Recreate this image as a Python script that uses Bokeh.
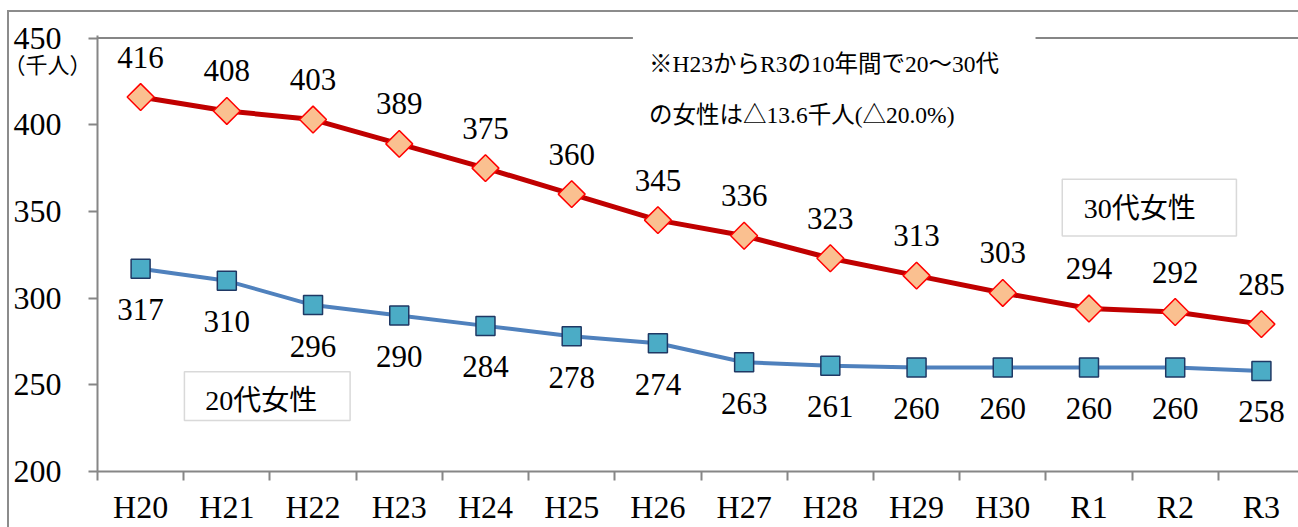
import numpy as np
from bokeh.plotting import figure
from bokeh.models import Range1d, FixedTicker, BoxAnnotation, Label, LinearAxis
from bokeh.core.properties import value
from bokeh.embed import file_html
from bokeh.resources import INLINE

categories = ["H20", "H21", "H22", "H23", "H24", "H25", "H26",
              "H27", "H28", "H29", "H30", "R1", "R2", "R3"]
women_20s = [317, 310, 296, 290, 284, 278, 274, 263, 261, 260, 260, 260, 260, 258]
women_30s = [416, 408, 403, 389, 375, 360, 345, 336, 323, 313, 303, 294, 292, 285]
y_ticks = [200, 250, 300, 350, 400, 450]
note_lines = ["※H23からR3の10年間で20～30代", "の女性は△13.6千人(△20.0%)"]
unit_label = "（千人）"
label_20s = "20代女性"
label_30s = "30代女性"

NUM_FONT = "Liberation Serif"
FONT = "Liberation Serif, Noto Sans CJK JP"
GRAY = "#868686"
UNIT_SIZE = 22

x = list(range(len(categories)))

p = figure(width=1298, height=527, output_backend="svg", toolbar_location=None,
           x_range=Range1d(-0.5, 13.43), y_range=Range1d(200, 451.5),
           min_border_left=96, min_border_right=0, min_border_top=35,
           min_border_bottom=55)
p.outline_line_color = None
p.xgrid.visible = False
p.ygrid.visible = False
p.background_fill_color = "white"
p.border_fill_color = None
# outer frame of the original figure (left and top edges)
p.styles = {
    "background": ("linear-gradient(#8c8c8c,#8c8c8c) 7px 10px / 2px 2000px no-repeat, "
                   "linear-gradient(#8c8c8c,#8c8c8c) 7px 10px / 2000px 2px no-repeat, white"),
}

# y axis
p.yaxis.ticker = FixedTicker(ticks=y_ticks)
p.yaxis.axis_line_color = GRAY
p.yaxis.axis_line_width = 2
p.yaxis.major_tick_line_color = GRAY
p.yaxis.major_tick_line_width = 2
p.yaxis.major_tick_out = 9
p.yaxis.major_tick_in = 0
p.yaxis.minor_tick_line_color = None
p.yaxis.major_label_standoff = 27
p.yaxis.major_label_text_font = NUM_FONT
p.yaxis.major_label_text_font_size = "32px"
p.yaxis.major_label_text_color = "black"

# unit label under the top tick, as an extra label-only axis
unit_axis = LinearAxis(ticker=FixedTicker(ticks=[434]),
                       major_label_overrides={434: unit_label},
                       axis_line_color=None, major_tick_line_color=None,
                       minor_tick_line_color=None, major_tick_out=0, major_tick_in=0,
                       major_label_standoff=-4 * UNIT_SIZE + 7, major_label_text_font=FONT,
                       major_label_text_font_size=f"{UNIT_SIZE}px",
                       major_label_text_color="black")
p.add_layout(unit_axis, "left")

# x axis: labels at category centres, tick marks at category boundaries
p.xaxis.ticker = FixedTicker(ticks=x, minor_ticks=[i - 0.5 for i in range(len(categories) + 1)])
p.xaxis.major_label_overrides = {i: c for i, c in enumerate(categories)}
p.xaxis.axis_line_color = GRAY
p.xaxis.axis_line_width = 2
p.xaxis.major_tick_line_color = None
p.xaxis.major_tick_out = 0
p.xaxis.major_tick_in = 0
p.xaxis.minor_tick_line_color = GRAY
p.xaxis.minor_tick_line_width = 2
p.xaxis.minor_tick_out = 9
p.xaxis.minor_tick_in = 0
p.xaxis.major_label_standoff = 8
p.xaxis.major_label_text_font = NUM_FONT
p.xaxis.major_label_text_font_size = "32px"
p.xaxis.major_label_text_color = "black"

# top border line of plot area, interrupted by the note
p.segment(x0=[-0.5, 10.38], y0=[450, 450], x1=[5.71, 13.6], y1=[450, 450],
          line_color=GRAY, line_width=2)

# series
p.line(x, women_20s, line_color="#4F81BD", line_width=4)
p.scatter(x, women_20s, marker="square", size=19, fill_color="#4BACC6",
          line_color="#1F3864", line_width=1.5)
p.line(x, women_30s, line_color="#C00000", line_width=5)
p.scatter(x, women_30s, marker="square", angle=np.pi / 4, size=19,
          fill_color="#FAC090", line_color="#FF0000", line_width=1.5)

# data labels
p.text(x, women_30s, text=[str(v) for v in women_30s], y_offset=-40,
       text_align="center", text_baseline="middle", text_font=value(NUM_FONT),
       text_font_size="31px", text_color="black")
p.text(x, women_20s, text=[str(v) for v in women_20s], y_offset=41,
       text_align="center", text_baseline="middle", text_font=value(NUM_FONT),
       text_font_size="31px", text_color="black")

# series name boxes
p.add_layout(BoxAnnotation(left=0.508, right=2.43, top=257.6, bottom=229.4,
                           fill_color="white", fill_alpha=1, line_color="#808080",
                           line_width=1.5))
p.add_layout(Label(x=1.40, y=240.9, text=label_20s, text_align="center",
                   text_baseline="middle", text_font=FONT, text_font_size="28px",
                   text_color="black"))
p.add_layout(BoxAnnotation(left=10.69, right=12.71, top=368.6, bottom=335.8,
                           fill_color="white", fill_alpha=1, line_color="#808080",
                           line_width=1.5))
p.add_layout(Label(x=11.59, y=351.9, text=label_30s, text_align="center",
                   text_baseline="middle", text_font=FONT, text_font_size="28px",
                   text_color="black"))

# note
p.add_layout(Label(x=5.897, y=434.8, text=note_lines[0], text_align="left",
                   text_baseline="middle", text_font=FONT, text_font_size="23.5px",
                   text_color="black"))
p.add_layout(Label(x=5.897, y=405.5, text=note_lines[1], text_align="left",
                   text_baseline="middle", text_font=FONT, text_font_size="23.5px",
                   text_color="black"))

open("out.html", "w").write(file_html(p, INLINE))
